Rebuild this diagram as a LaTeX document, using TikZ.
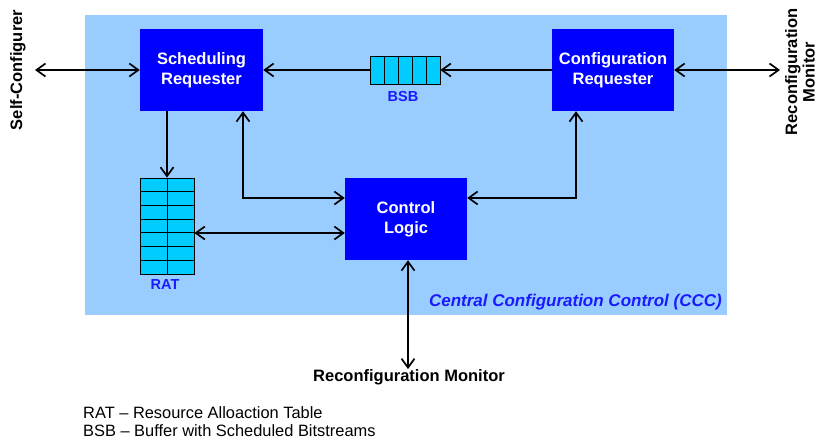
\documentclass[tikz,border=0pt]{standalone}
\usepackage{fontspec}
\setmainfont{Liberation Sans}
\usetikzlibrary{arrows.meta,calc}
\definecolor{cccbg}{HTML}{99CCFF}
\definecolor{blkblue}{HTML}{0000FF}
\definecolor{cellcyan}{HTML}{00CCFF}
\definecolor{lblblue}{HTML}{1A1AFF}
\tikzset{
  blk/.style={fill=blkblue, text=white, font=\bfseries\fontsize{16.5}{20}\selectfont,
    align=center, minimum width=123pt, minimum height=82pt, inner sep=0pt},
  barb/.tip={Straight Barb[length=9pt,width=13pt,line width=1.7pt]},
  lnk/.style={line width=1.7pt, -barb},
  bilnk/.style={line width=1.7pt, barb-barb},
  cell/.style={draw=black, line width=0.8pt, fill=cellcyan},
  extlbl/.style={font=\bfseries\fontsize{16.5}{17.5}\selectfont, align=center, inner sep=0pt},
  qlbl/.style={font=\bfseries\fontsize{14.5}{16}\selectfont, text=lblblue, inner sep=0pt}
}
\begin{document}
\begin{tikzpicture}[x=1pt,y=-1pt]
\useasboundingbox (0,0) rectangle (819,442);
% Central Configuration Control area
\fill[cccbg] (85,15) rectangle (727,315);
\node[font=\bfseries\itshape\fontsize{17}{18}\selectfont, text=lblblue, anchor=east, inner sep=0pt] (ccc) at (722,302) {Central Configuration Control (CCC)};

% main blocks
\node[blk] (sr) at (201.5,70) {Scheduling\\Requester};
\node[blk, minimum width=122pt] (cr) at (613,70) {Configuration\\Requester};
\node[blk, minimum width=122pt] (cl) at (406,219) {Control\\Logic};

% BSB queue
\node[cell, minimum width=70pt, minimum height=28pt, inner sep=0pt] (bsb) at (405,70) {};
\foreach \i in {1,...,4} \draw[line width=0.8pt] (370+14*\i,56) -- (370+14*\i,84);
\node[qlbl] (bsbl) at (403,97) {BSB};

% RAT table
\node[cell, minimum width=54pt, minimum height=96pt, inner sep=0pt] (rat) at (167,226) {};
\foreach \i in {1,...,6} \draw[line width=0.8pt] (140,178+96*\i/7) -- (194,178+96*\i/7);
\draw[line width=0.8pt] (rat.north) -- (rat.south);
\node[qlbl] (ratl) at (165,285) {RAT};

% external parties
\node[extlbl, rotate=90] (sc) at (18,70) {Self-Configurer};
\coordinate (scend) at (35,70);
\node[extlbl, rotate=90] (rmr) at (800,72) {Reconfiguration\\Monitor};
\coordinate (rmrend) at (780,70);
\node[extlbl] (rmb) at (409,377) {Reconfiguration Monitor};

% connections
\draw[bilnk] (scend) -- (sr.west);
\draw[bilnk] (cr.east) -- (rmrend);
\draw[lnk] (bsb.west) -- (sr.east);
\draw[lnk] (cr.west) -- (bsb.east);
\draw[lnk] (sr.south -| rat.north) -- (rat.north);
\draw[bilnk] ([xshift=41.5pt]sr.south) |- ([yshift=21pt]cl.west);
\draw[bilnk] ([yshift=21pt]cl.east) -| ([xshift=-37pt]cr.south);
\coordinate (rl) at ([yshift=-14pt]cl.west);
\draw[bilnk] (rl -| rat.east) -- (rl);
\draw[bilnk] ([xshift=2pt]cl.south) -- ([xshift=2pt]cl.south |- rmb.north);

% legend
\node[anchor=north west, align=left, inner sep=0pt, font=\fontsize{16.4}{18}\selectfont] (leg) at (83,406)
  {RAT -- Resource Alloaction Table\\BSB -- Buffer with Scheduled Bitstreams};
\end{tikzpicture}
\end{document}
